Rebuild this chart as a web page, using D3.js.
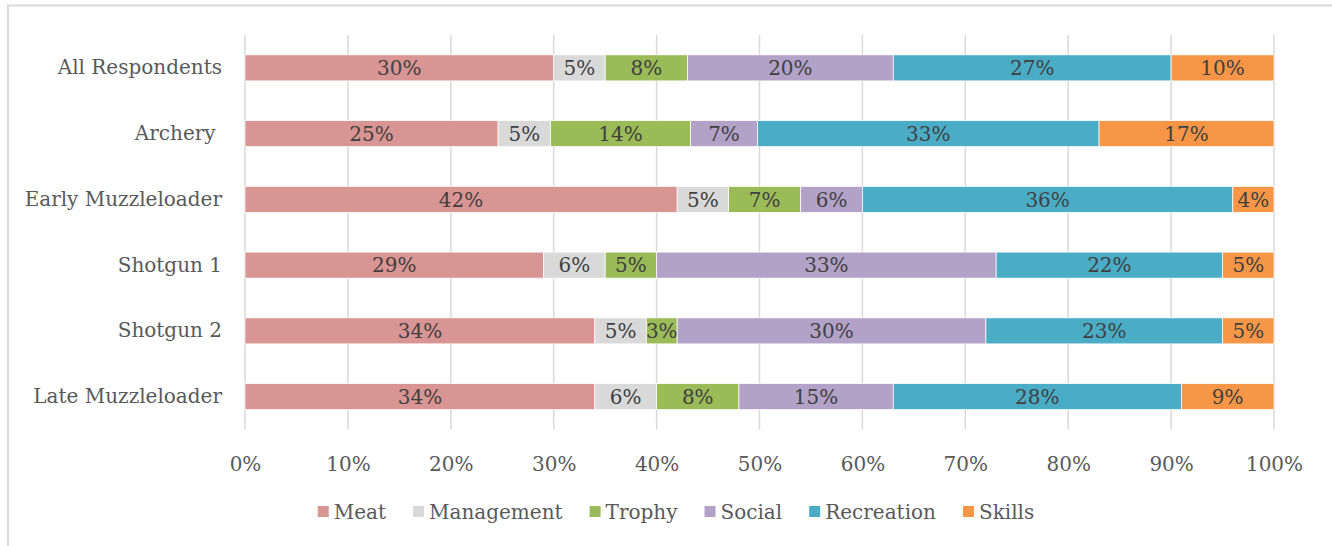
<!DOCTYPE html>
<html>
<head>
<meta charset="utf-8">
<script src="https://cdn.jsdelivr.net/npm/d3@7.9.0/dist/d3.min.js"></script>
<style>
  body { margin: 0; background: #fff; }
  svg { display: block; font-family: "DejaVu Serif", serif; }
</style>
</head>
<body>
<svg id="chart" width="1332" height="546"></svg>
<script>
const categories = ["All Respondents", "Archery ", "Early Muzzleloader", "Shotgun 1", "Shotgun 2", "Late Muzzleloader"];
const seriesNames = ["Meat", "Management", "Trophy", "Social", "Recreation", "Skills"];
const seriesColors = ["#D99594", "#D9D9D9", "#9BBB59", "#B2A2C7", "#4BACC6", "#F79646"];

// percent values per series, one entry per category
const meat       = [30, 24.6, 42, 29, 34, 34];
const management = [5,  5.1,  5,  6,  5,  6];
const trophy     = [8,  13.6, 7,  5,  3,  8];
const social     = [20, 6.5,  6,  33, 30, 15];
const recreation = [27, 33.2, 36, 22, 23, 28];
const skills     = [10, 17.0, 4,  5,  5,  9];
const seriesValues = [meat, management, trophy, social, recreation, skills];

const tickValues = [0, 10, 20, 30, 40, 50, 60, 70, 80, 90, 100];

const rows = categories.map((c, i) => {
  const row = { category: c };
  seriesNames.forEach((s, j) => { row[s] = seriesValues[j][i]; });
  return row;
});

const svg = d3.select("#chart");
const W = 1332, H = 546;
const margin = { left: 245, right: 58, top: 35, bottom: 116.5 };
const fontSize = 20;

// outer chart frame (left + top edges visible)
svg.append("path")
  .attr("d", `M8,${H} V5.5 H${W}`)
  .attr("fill", "none")
  .attr("stroke", "#D9D9D9")
  .attr("stroke-width", 2);

const x = d3.scaleLinear().domain([0, 100]).range([margin.left, W - margin.right]);
const y = d3.scaleBand().domain(categories).range([margin.top, H - margin.bottom]).paddingInner(0.604).paddingOuter(0.302);

// gridlines
svg.append("g")
  .selectAll("line")
  .data(tickValues)
  .join("line")
  .attr("x1", d => x(d)).attr("x2", d => x(d))
  .attr("y1", margin.top).attr("y2", H - margin.bottom)
  .attr("stroke", "#D9D9D9")
  .attr("stroke-width", 1.5);

const stacked = d3.stack().keys(seriesNames)(rows);

const layers = svg.append("g")
  .selectAll("g")
  .data(stacked)
  .join("g")
  .attr("fill", (d, i) => seriesColors[i]);

layers.selectAll("rect")
  .data(d => d)
  .join("rect")
  .attr("x", d => x(d[0]))
  .attr("width", d => x(d[1]) - x(d[0]))
  .attr("y", d => y(d.data.category))
  .attr("height", y.bandwidth())
  .attr("stroke", "#fff")
  .attr("stroke-width", 0.75);

// data labels
layers.selectAll("text")
  .data(d => d)
  .join("text")
  .attr("x", d => (x(d[0]) + x(d[1])) / 2)
  .attr("y", d => y(d.data.category) + y.bandwidth() / 2)
  .attr("dy", "0.36em")
  .attr("text-anchor", "middle")
  .attr("fill", "#404040")
  .attr("font-size", fontSize)
  .text(d => Math.round(d[1] - d[0]) + "%");

// category axis
const yAxis = svg.append("g")
  .attr("transform", `translate(${margin.left - 23},0)`)
  .call(d3.axisLeft(y).tickSize(0).tickPadding(0));
yAxis.select(".domain").remove();
yAxis.selectAll("text")
  .attr("font-family", "DejaVu Serif, serif")
  .attr("font-size", fontSize)
  .attr("fill", "#595959")
  .style("white-space", "pre");

// value axis
const xAxis = svg.append("g")
  .attr("transform", `translate(0,${H - margin.bottom + 34})`)
  .call(d3.axisBottom(x).tickValues(tickValues).tickFormat(d => d + "%").tickSize(0).tickPadding(0));
xAxis.select(".domain").remove();
xAxis.selectAll("text")
  .attr("font-family", "DejaVu Serif, serif")
  .attr("font-size", fontSize)
  .attr("fill", "#595959")
  .attr("dy", "0.36em")
  .attr("y", 0);

// legend, laid out from measured text widths and centred
const legend = svg.append("g").attr("transform", "translate(0,512)");
const items = legend.selectAll("g")
  .data(seriesNames)
  .join("g");
items.append("rect")
  .attr("x", 0).attr("y", -6)
  .attr("width", 11).attr("height", 11)
  .attr("fill", (d, i) => seriesColors[i]);
items.append("text")
  .attr("x", 16)
  .attr("dy", "0.36em")
  .attr("font-size", fontSize)
  .attr("fill", "#595959")
  .text(d => d);

const gap = 27;
const widths = [];
items.select("text").each(function () { widths.push(16 + this.getComputedTextLength()); });
const total = d3.sum(widths) + gap * (widths.length - 1);
let cursor = 676 - total / 2;
items.attr("transform", (d, i) => {
  const t = `translate(${cursor},0)`;
  cursor += widths[i] + gap;
  return t;
});
</script>
</body>
</html>
